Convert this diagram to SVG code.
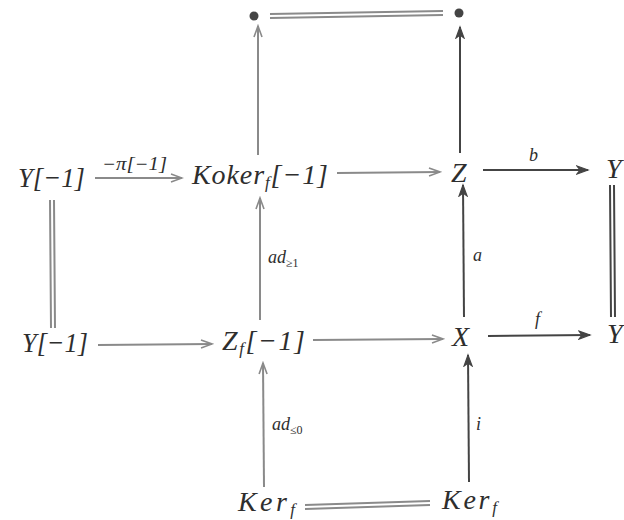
<svg xmlns="http://www.w3.org/2000/svg" width="624" height="520" viewBox="0 0 624 520">
<style>
text{font-family:"Liberation Serif",serif;font-style:italic;fill:#2e2e2e}
.n{font-size:28px}
.sub{font-size:17px}
.l{font-size:18px}
.s{font-size:12px;font-style:normal}
.g{stroke:#8a8a8a;stroke-width:2;fill:none}
.d{stroke:#444;stroke-width:2;fill:none}
</style>
<defs>
<marker id="ag" markerWidth="14" markerHeight="10" refX="12" refY="5" orient="auto" markerUnits="userSpaceOnUse"><path d="M1,1 L12,5 L1,9" fill="none" stroke="#8a8a8a" stroke-width="1.6"/></marker>
<marker id="ad" markerWidth="14" markerHeight="10" refX="12" refY="5" orient="auto" markerUnits="userSpaceOnUse"><path d="M1,1 L12,5 L1,9 L4,5 Z" fill="#444" stroke="#444" stroke-width="1.2"/></marker>
</defs>
<g id="top-left"><circle cx="254" cy="16" r="4.5" fill="#444"/></g>
<g id="top-right"><circle cx="459" cy="13" r="4.5" fill="#444"/></g>
<g id="Y1"><text class="n" x="18" y="187" textLength="67" lengthAdjust="spacingAndGlyphs">Y[−1]</text></g>
<g id="Koker"><text class="n" x="192" y="184" textLength="136" lengthAdjust="spacing">Koker<tspan class="sub" dy="4">f</tspan><tspan dy="-4">[−1]</tspan></text></g>
<g id="Z"><text class="n" x="451" y="182">Z</text></g>
<g id="Yr1"><text class="n" x="606" y="178">Y</text></g>
<g id="Y2"><text class="n" x="22" y="352" textLength="66" lengthAdjust="spacingAndGlyphs">Y[−1]</text></g>
<g id="Zf"><text class="n" x="222" y="350" textLength="83" lengthAdjust="spacing">Z<tspan class="sub" dy="4">f</tspan><tspan dy="-4">[−1]</tspan></text></g>
<g id="X"><text class="n" x="452" y="346">X</text></g>
<g id="Yr2"><text class="n" x="607" y="343">Y</text></g>
<g id="Ker1"><text class="n" x="238" y="511" textLength="57" lengthAdjust="spacing">Ker<tspan class="sub" dy="4">f</tspan></text></g>
<g id="Ker2"><text class="n" x="442" y="509" textLength="55" lengthAdjust="spacing">Ker<tspan class="sub" dy="4">f</tspan></text></g>
<g id="connectors">
<path class="g" d="M270,14 L443,11 M270,18 L443,15"/>
<path class="g" d="M258,155 L258,26" marker-end="url(#ag)"/>
<path class="d" d="M460,153 L460,27" marker-end="url(#ad)"/>
<path class="g" d="M95,178 L182,178" marker-end="url(#ag)"/>
<text class="l" x="102" y="170" textLength="65" lengthAdjust="spacingAndGlyphs">−π[−1]</text>
<path class="g" d="M337,173 L440,172" marker-end="url(#ag)"/>
<path class="d" d="M483,170 L588,170" marker-end="url(#ad)"/>
<text class="l" x="529" y="161">b</text>
<path class="g" d="M50,200 L51,328 M54,200 L55,328"/>
<path class="d" d="M610,185 L611,317 M614,185 L615,317"/>
<path class="g" d="M260,320 L260,198" marker-end="url(#ag)"/>
<text class="l" x="268" y="263">ad<tspan class="s" dy="4">≥1</tspan></text>
<path class="d" d="M464,317 L463,185" marker-end="url(#ad)"/>
<text class="l" x="473" y="261">a</text>
<path class="g" d="M98,345 L212,344" marker-end="url(#ag)"/>
<path class="g" d="M313,340 L443,339" marker-end="url(#ag)"/>
<path class="d" d="M488,336 L590,335" marker-end="url(#ad)"/>
<text class="l" x="535" y="325">f</text>
<path class="g" d="M264,487 L263,363" marker-end="url(#ag)"/>
<text class="l" x="272" y="430">ad<tspan class="s" dy="4">≤0</tspan></text>
<path class="d" d="M469,482 L468,355" marker-end="url(#ad)"/>
<text class="l" x="476" y="430">i</text>
<path class="g" d="M305,505 L430,501 M305,509 L430,505"/>
</g>
</svg>
